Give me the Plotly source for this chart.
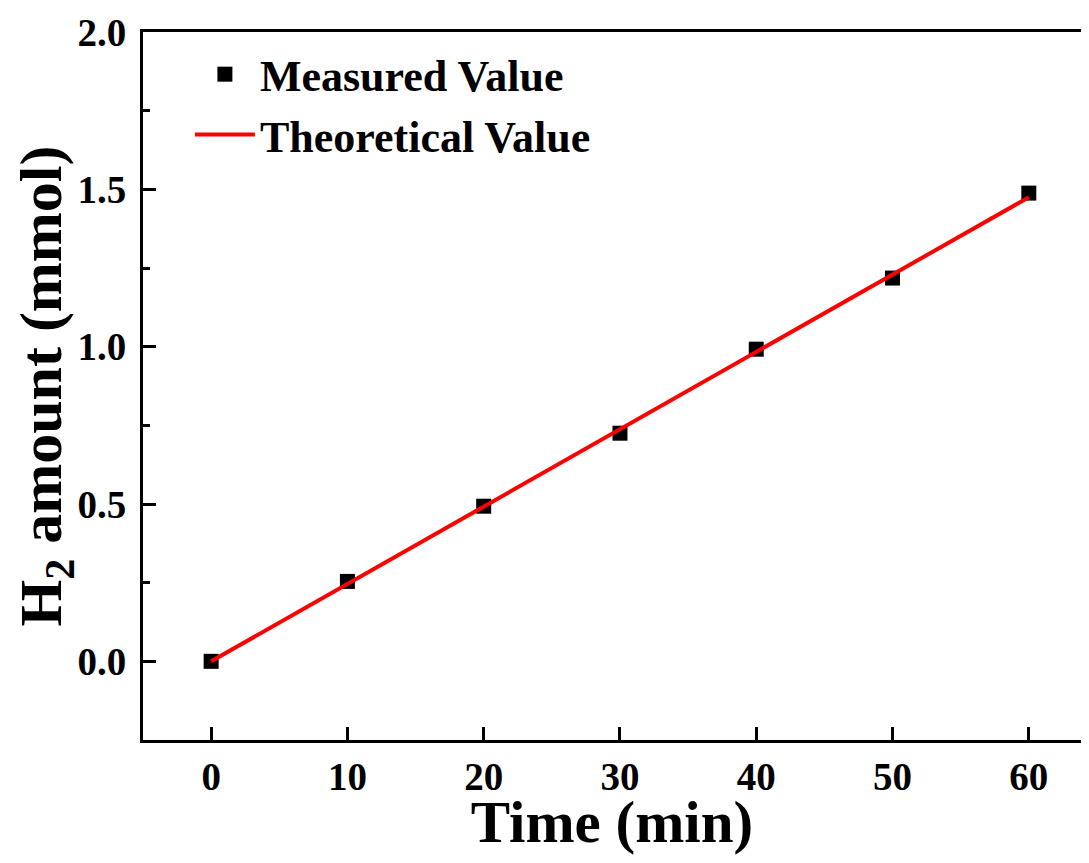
import plotly.graph_objects as go

time_min = [0, 10, 20, 30, 40, 50, 60]
measured = [0.0, 0.254, 0.493, 0.725, 0.992, 1.218, 1.488]
theoretical = [0.0, 0.246, 0.492, 0.738, 0.983, 1.229, 1.475]
y_ticks = [0.0, 0.5, 1.0, 1.5, 2.0]
x_ticks = [0, 10, 20, 30, 40, 50, 60]

FONT = "Liberation Serif"

fig = go.Figure()
fig.add_trace(go.Scatter(
    x=time_min, y=measured, mode="markers", name="Measured Value",
    marker=dict(symbol="square", size=15, color="black"),
))
fig.add_trace(go.Scatter(
    x=time_min, y=theoretical, mode="lines", name="Theoretical Value",
    line=dict(color="#ff0000", width=4),
))

axis_common = dict(
    showline=True, linecolor="black", linewidth=3,
    ticks="inside", ticklen=13, tickwidth=3, tickcolor="black",
    showgrid=False, zeroline=False,
    tickfont=dict(family=FONT, size=39, color="black", weight="bold"),
)

fig.update_layout(
    width=1073, height=847,
    margin=dict(l=135, r=0, t=24, b=115),
    plot_bgcolor="white", paper_bgcolor="white",
    font=dict(family=FONT, color="black", weight="bold"),
    showlegend=True,
    legend=dict(
        x=0.05, y=0.99, xanchor="left", yanchor="top",
        font=dict(family=FONT, size=44, color="black", weight="bold"),
        bgcolor="rgba(0,0,0,0)", itemwidth=60, tracegroupgap=0,
    ),
    xaxis=dict(
        **axis_common,
        range=[-5, 63.83], tickvals=x_ticks, mirror=True,
        ticklabelstandoff=0,
        title=dict(text="Time (min)", standoff=5,
                   font=dict(family=FONT, size=59, color="black", weight="bold")),
    ),
    yaxis=dict(
        **axis_common,
        range=[-0.25, 2.0], tickvals=y_ticks, tickformat=".1f",
        ticklabelstandoff=6,
        minor=dict(ticks="inside", ticklen=7, tickwidth=3, tickcolor="black", dtick=0.25, showgrid=False),
        title=dict(text="H<sub>2</sub> amount (mmol)", standoff=8,
                   font=dict(family=FONT, size=60, color="black", weight="bold")),
    ),
)

fig.write_html("out.html")
